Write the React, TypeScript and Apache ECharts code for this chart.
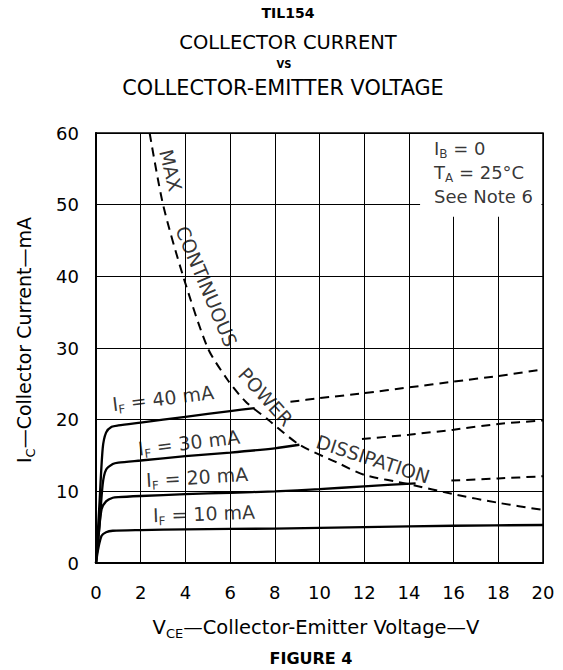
import React, { useEffect, useRef } from "react";
import * as echarts from "echarts";

// Axis ticks
const X_MIN = 0, X_MAX = 20, X_STEP = 2;
const Y_MIN = 0, Y_MAX = 60, Y_STEP = 10;

// Collector current curves [VCE (V), IC (mA)]
const if40Solid: [number, number][] = [[0, 0], [0.15, 8], [0.3, 16], [0.45, 18.2], [0.7, 19], [1, 19.2], [2, 19.6], [4, 20.4], [6, 21.2], [7.1, 21.6]];
const if40Dashed: [number, number][] = [[8.7, 22.5], [10, 23], [12, 23.7], [14, 24.5], [16, 25.3], [18, 26.1], [20, 27]];
const if30Solid: [number, number][] = [[0, 0], [0.15, 5], [0.3, 11], [0.45, 13], [0.75, 13.8], [1, 14], [2, 14.3], [4, 14.9], [6, 15.4], [8, 16], [9.1, 16.5]];
const if30Dashed: [number, number][] = [[11.9, 17.3], [14, 17.9], [16, 18.6], [18, 19.4], [20, 19.9]];
const if20Solid: [number, number][] = [[0, 0], [0.12, 4], [0.25, 7.5], [0.45, 8.6], [0.75, 9.1], [1, 9.2], [2, 9.35], [4, 9.6], [6, 9.8], [8, 10], [10, 10.3], [12, 10.7], [14.3, 11.1]];
const if20Dashed: [number, number][] = [[15.9, 11.5], [18, 11.8], [20, 12.1]];
const if10Solid: [number, number][] = [[0, 0], [0.1, 2], [0.25, 3.8], [0.45, 4.3], [0.75, 4.5], [2, 4.6], [4, 4.7], [8, 4.8], [12, 5], [16, 5.2], [20, 5.3]];
const maxPower: [number, number][] = [[2.4, 60], [3, 50], [3.9, 40], [5, 30], [5.9, 25.5], [6.7, 22.5], [7.7, 20], [9.1, 16.5], [10.8, 14], [12, 12.3], [14, 11], [16, 9.6], [18, 8.4], [20, 7.4]];

// Curve labels: [VCE, IC, rotation deg, text]
const curveLabels: [number, number, number, string][] = [
  [3.0, 23.0, 7, "I{s|F} = 40 mA"],
  [4.16, 16.8, 7, "I{s|F} = 30 mA"],
  [4.52, 12.0, 3.5, "I{s|F} = 20 mA"],
  [4.83, 6.9, 2, "I{s|F} = 10 mA"],
];
const powerLabels: [number, number, number, string][] = [
  [3.35, 54.8, -76, "MAX"],
  [4.95, 38.6, -67, "CONTINUOUS"],
  [7.6, 23.2, -48, "POWER"],
  [12.4, 14.5, -18, "DISSIPATION"],
];
const noteAnchor: [number, number] = [15.1, 54.5];
const noteText = "I{s|B} = 0\nT{s|A} = 25°C\nSee Note 6";
const noteBox: [[number, number], [number, number]] = [[14.5, 48.3], [19.93, 59.85]];

const FONT = "DejaVu Sans";
const sub = { fontSize: 12, lineHeight: 24, padding: [12, 0, 0, 0], fontFamily: FONT, color: "#000", textBorderWidth: 0 };

export default function App() {
  const ref = useRef<HTMLDivElement>(null);
  useEffect(() => {
    if (!ref.current) return;
    const chart = echarts.init(ref.current, null, { renderer: "svg" });
    const curve = (data: [number, number][], dashed: boolean) => ({
      type: "line",
      data,
      showSymbol: false,
      symbol: "none",
      smooth: 0.25,
      silent: true,
      z: 3,
      lineStyle: { color: "#000", width: dashed ? 2 : 2.3, type: dashed ? [9, 6] : "solid" },
    });
    const option: any = {
      animation: false,
      backgroundColor: "#fff",
      textStyle: { fontFamily: FONT, color: "#000" },
      grid: { left: 96, right: 20, top: 133, bottom: 107, show: true, borderColor: "#000", borderWidth: 1.5, backgroundColor: "transparent" },
      xAxis: {
        type: "value", min: X_MIN, max: X_MAX, interval: X_STEP,
        axisLine: { show: true, lineStyle: { color: "#000", width: 2 } },
        axisTick: { show: false },
        axisLabel: { color: "#000", fontSize: 18, fontFamily: FONT, margin: 20 },
        splitLine: { show: true, lineStyle: { color: "#000", width: 1 } },
      },
      yAxis: {
        type: "value", min: Y_MIN, max: Y_MAX, interval: Y_STEP,
        axisLine: { show: true, lineStyle: { color: "#000", width: 2 } },
        axisTick: { show: false },
        axisLabel: { color: "#000", fontSize: 18, fontFamily: FONT, margin: 17 },
        splitLine: { show: true, lineStyle: { color: "#000", width: 1 } },
      },
      series: [
        {
          type: "scatter",
          data: [{ value: noteAnchor }],
          symbolSize: 1,
          itemStyle: { color: "transparent" },
          silent: true,
          z: 2,
          label: {
            show: true, position: "right", distance: 0, formatter: noteText,
            fontSize: 18, fontFamily: FONT, color: "#000", lineHeight: 24, align: "left", textBorderWidth: 0,
            rich: { s: sub },
          },
          markArea: {
            silent: true,
            itemStyle: { color: "#fff", opacity: 1, borderWidth: 0 },
            data: [[{ coord: noteBox[0] }, { coord: noteBox[1] }]],
          },
        },
        curve(if40Solid, false),
        curve(if40Dashed, true),
        curve(if30Solid, false),
        curve(if30Dashed, true),
        curve(if20Solid, false),
        curve(if20Dashed, true),
        curve(if10Solid, false),
        curve(maxPower, true),
        {
          type: "scatter",
          symbolSize: 1,
          itemStyle: { color: "transparent" },
          silent: true,
          z: 5,
          data: [...curveLabels, ...powerLabels].map((d) => ({
            value: [d[0], d[1]],
            label: { formatter: d[3], rotate: d[2] },
          })),
          label: {
            show: true, position: "inside", fontSize: 19, fontFamily: FONT, color: "#000", lineHeight: 24,
            textBorderWidth: 0, textBorderColor: "transparent",
            rich: { s: sub },
          },
        },
      ],
      graphic: [
        { type: "text", x: 288, y: 13, style: { text: "TIL154", fontSize: 14, fontWeight: "bold", fontFamily: FONT, fill: "#000", align: "center", verticalAlign: "middle" } },
        { type: "text", x: 288, y: 42, style: { text: "COLLECTOR CURRENT", fontSize: 19.5, fontFamily: FONT, fill: "#000", align: "center", verticalAlign: "middle" } },
        { type: "text", x: 284, y: 64, style: { text: "VS", fontSize: 10, fontWeight: "bold", fontFamily: FONT, fill: "#000", align: "center", verticalAlign: "middle" } },
        { type: "text", x: 283, y: 88, style: { text: "COLLECTOR-EMITTER VOLTAGE", fontSize: 20.8, fontFamily: FONT, fill: "#000", align: "center", verticalAlign: "middle" } },
        { type: "text", x: 316, y: 627, style: { text: "V{s|CE}—Collector-Emitter Voltage—V", fontSize: 19.5, fontFamily: FONT, fill: "#000", align: "center", verticalAlign: "middle", lineHeight: 24, rich: { s: { ...sub, fontSize: 13 } } } },
        { type: "text", x: 311, y: 658, style: { text: "FIGURE 4", fontSize: 16, fontWeight: "bold", fontFamily: FONT, fill: "#000", align: "center", verticalAlign: "middle" } },
        { type: "text", x: 24, y: 340, rotation: Math.PI / 2, style: { text: "I{s|C}—Collector Current—mA", fontSize: 19, fontFamily: FONT, fill: "#000", align: "center", verticalAlign: "middle", lineHeight: 24, rich: { s: { ...sub, fontSize: 13 } } } },
      ],
    };
    chart.setOption(option);
    return () => chart.dispose();
  }, []);
  return <div ref={ref} style={{ position: "absolute", left: 0, top: 0, width: 563, height: 670 }} />;
}
